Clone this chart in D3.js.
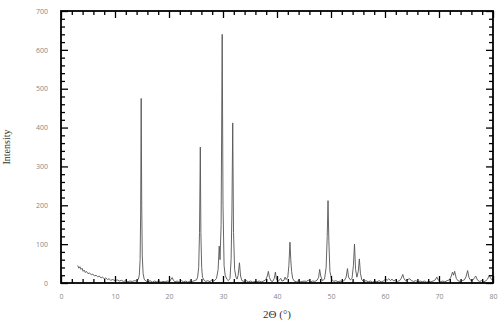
<!DOCTYPE html>
<html><head><meta charset="utf-8">
<script src="https://cdn.jsdelivr.net/npm/d3@7"></script>
<style>body{margin:0;background:#fff}svg{display:block}</style>
</head><body>
<script>
// 2θ (°) and intensity pairs
const theta = [3.1,3.3,3.5,3.7,3.9,4.1,4.3,4.5,4.7,5.0,5.3,5.6,5.9,6.2,6.5,6.8,7.1,7.4,7.7,8.0,8.3,8.6,8.9,9.2,9.6,10.0,10.4,10.8,11.2,11.6,12.0,12.4,12.8,13.2,13.6,14.0,14.3,14.5,14.65,14.75,14.85,14.95,15.05,15.2,15.4,15.7,16.1,16.5,16.9,17.3,17.7,18.1,18.5,18.9,19.3,19.7,20.1,20.4,20.6,20.8,21.1,21.5,21.9,22.3,22.7,23.1,23.5,23.9,24.3,24.7,25.1,25.3,25.5,25.65,25.8,25.9,26.05,26.2,26.5,26.8,27.2,27.6,27.9,28.2,28.5,28.8,29.1,29.3,29.45,29.65,29.85,30.0,30.2,30.4,30.7,31.0,31.3,31.5,31.65,31.8,31.95,32.15,32.4,32.6,32.8,33.05,33.25,33.5,33.9,34.3,34.7,35.1,35.5,35.9,36.3,36.7,37.1,37.5,37.9,38.2,38.4,38.6,38.9,39.2,39.5,39.7,39.9,40.2,40.5,40.7,40.9,41.3,41.5,41.7,42.0,42.2,42.4,42.55,42.7,42.9,43.2,43.6,44.0,44.4,45.0,45.4,45.8,46.2,46.6,47.0,47.4,47.7,47.9,48.1,48.4,48.8,49.1,49.3,49.45,49.6,49.8,50.1,50.5,50.9,51.3,51.7,52.1,52.5,52.8,53.05,53.25,53.6,53.9,54.15,54.35,54.55,54.8,55.05,55.25,55.45,55.7,56.1,56.5,56.9,57.3,57.7,58.1,58.5,58.9,59.3,59.7,60.1,60.4,60.7,61.0,61.3,61.6,61.9,62.3,62.7,63.0,63.3,63.5,63.8,64.2,64.6,64.9,65.3,65.7,66.1,66.5,66.9,67.3,67.7,68.1,68.5,68.9,69.3,69.6,69.9,70.3,70.7,71.1,71.5,71.9,72.2,72.5,72.7,72.9,73.2,73.5,73.9,74.3,74.7,75.0,75.3,75.55,75.9,76.3,76.6,76.8,77.1,77.5,77.9,78.3,78.7,79.0,79.3,79.5,79.8,80.0];
const intensity = [45,38,42,35,38,30,33,27,30,24,26,21,23,18,20,16,18,13,15,11,13,9,11,7,9,6,8,5,7,4,6,3,5,4,6,5,9,20,60,180,475,200,70,25,10,5,3,6,2,5,3,6,2,4,3,5,4,10,14,7,3,5,2,6,3,5,2,5,4,6,8,15,40,130,350,130,40,15,7,4,6,3,8,5,7,12,35,95,60,150,640,200,45,20,10,6,12,60,180,412,130,35,15,10,20,52,18,6,4,6,3,5,2,4,3,5,3,5,8,18,30,14,5,4,12,28,10,4,9,12,5,7,15,9,15,45,105,60,30,12,5,3,6,3,5,4,7,3,5,4,7,14,35,18,6,10,40,120,212,110,30,10,4,6,3,5,4,7,15,37,15,8,12,45,100,35,15,30,62,25,8,4,6,3,5,2,5,3,6,3,5,10,7,11,6,10,5,8,4,6,12,22,12,6,9,11,6,4,6,3,5,3,5,2,4,3,5,8,15,7,3,5,3,6,8,15,28,20,30,12,6,4,6,8,16,32,14,6,8,14,18,8,4,6,3,6,10,20,14,8,9];
const xTicks = [0,10,20,30,40,50,60,70,80];
const yTicks = [0,100,200,300,400,500,600,700];
const xLabel = "2Θ (°)";
const yLabel = "Intensity";

const W = 501, H = 323;
const m = {left:61, right:8, top:11, bottom:40};
const svg = d3.select("body").append("svg").attr("width",W).attr("height",H);
const x = d3.scaleLinear().domain([0,80]).range([m.left, W-m.right]);
const y = d3.scaleLinear().domain([0,700]).range([H-m.bottom, m.top]);

const n = Math.min(theta.length, intensity.length);
const pts = theta.slice(0,n).map((t,i)=>[t,intensity[i]]);
svg.append("path").datum(pts)
  .attr("fill","none").attr("stroke","#555").attr("stroke-width",0.9)
  .attr("stroke-linejoin","round")
  .attr("d", d3.line().x(d=>x(d[0])).y(d=>y(d[1])));

const tickStyle = g => { g.select(".domain").remove(); g.selectAll("line").attr("stroke","#000").attr("stroke-width",1.3); };
const xMinor = d3.range(0,81,2).filter(v=>v%10!==0);
const yMinor = d3.range(0,701,20).filter(v=>v%100!==0);

// bottom
svg.append("g").attr("transform",`translate(0,${y(0)})`)
  .call(d3.axisBottom(x).tickValues(xTicks).tickSize(-7).tickPadding(11).tickFormat(d3.format("d")))
  .call(tickStyle)
  .call(g=>g.selectAll("text").attr("fill","#888").attr("font-size",7).attr("font-family","Open Sans, sans-serif"));
svg.append("g").attr("transform",`translate(0,${y(0)})`)
  .call(d3.axisBottom(x).tickValues(xMinor).tickSize(-4).tickFormat(""))
  .call(tickStyle);
// top
svg.append("g").attr("transform",`translate(0,${y(700)})`)
  .call(d3.axisTop(x).tickValues(xTicks).tickSize(-7).tickFormat(""))
  .call(tickStyle);
svg.append("g").attr("transform",`translate(0,${y(700)})`)
  .call(d3.axisTop(x).tickValues(xMinor).tickSize(-4).tickFormat(""))
  .call(tickStyle);
// left
svg.append("g").attr("transform",`translate(${x(0)},0)`)
  .call(d3.axisLeft(y).tickValues(yTicks).tickSize(-7).tickPadding(13).tickFormat(d3.format("d")))
  .call(tickStyle)
  .call(g=>g.selectAll("text").attr("fill","#888").attr("font-size",7).attr("font-family","Open Sans, sans-serif"));
svg.append("g").attr("transform",`translate(${x(0)},0)`)
  .call(d3.axisLeft(y).tickValues(yMinor).tickSize(-4).tickFormat(""))
  .call(tickStyle);
// right
svg.append("g").attr("transform",`translate(${x(80)},0)`)
  .call(d3.axisRight(y).tickValues(yTicks).tickSize(-7).tickFormat(""))
  .call(tickStyle);
svg.append("g").attr("transform",`translate(${x(80)},0)`)
  .call(d3.axisRight(y).tickValues(yMinor).tickSize(-4).tickFormat(""))
  .call(tickStyle);

svg.append("rect").attr("x",x(0)).attr("y",y(700)).attr("width",x(80)-x(0)).attr("height",y(0)-y(700))
  .attr("fill","none").attr("stroke","#000").attr("stroke-width",1.8);

svg.append("text").attr("x",(x(0)+x(80))/2).attr("y",318)
  .attr("text-anchor","middle").attr("font-family","Liberation Serif, serif").attr("font-size",11).attr("fill","#333")
  .text(xLabel);
svg.append("text").attr("transform",`translate(10,${(y(0)+y(700))/2}) rotate(-90)`)
  .attr("text-anchor","middle").attr("font-family","Liberation Serif, serif").attr("font-size",10).attr("fill","#333")
  .text(yLabel);
</script>
</body></html>
